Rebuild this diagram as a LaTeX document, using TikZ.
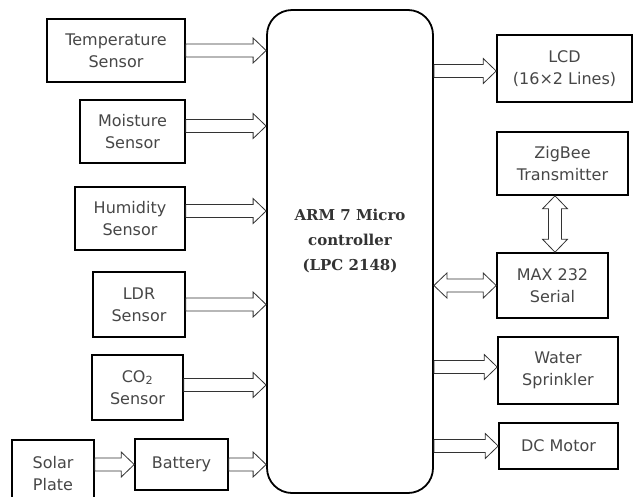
\documentclass[tikz,border=0pt]{standalone}
\usepackage{fontspec}
\setsansfont{DejaVu Sans}
\newfontfamily\armfont{DejaVu Serif}
\usetikzlibrary{calc}

\begin{document}
\begin{tikzpicture}[x=1pt,y=-1pt,
 block/.style={draw,line width=1.6pt,align=center,inner sep=2pt,text=black!72,
   font=\sffamily\fontsize{16}{22}\selectfont},
 fat/.style={draw=black!80,line width=0.8pt,line join=miter,
   to path={($(\tikztostart)!6.5pt!90:(\tikztotarget)$)
     -- ($(\tikztotarget)!13pt!(\tikztostart)!6.5pt!90:(\tikztotarget)$)
     -- ($(\tikztotarget)!13pt!(\tikztostart)!12.5pt!90:(\tikztotarget)$)
     -- (\tikztotarget)
     -- ($(\tikztotarget)!13pt!(\tikztostart)!12.5pt!-90:(\tikztotarget)$)
     -- ($(\tikztotarget)!13pt!(\tikztostart)!6.5pt!-90:(\tikztotarget)$)
     -- ($(\tikztostart)!6.5pt!-90:(\tikztotarget)$) -- cycle}},
 fatboth/.style={draw=black!80,line width=0.8pt,line join=miter,
   to path={(\tikztostart)
     -- ($(\tikztostart)!13pt!(\tikztotarget)!12.5pt!90:(\tikztotarget)$)
     -- ($(\tikztostart)!13pt!(\tikztotarget)!6.5pt!90:(\tikztotarget)$)
     -- ($(\tikztotarget)!13pt!(\tikztostart)!6.5pt!90:(\tikztotarget)$)
     -- ($(\tikztotarget)!13pt!(\tikztostart)!12.5pt!90:(\tikztotarget)$)
     -- (\tikztotarget)
     -- ($(\tikztotarget)!13pt!(\tikztostart)!12.5pt!-90:(\tikztotarget)$)
     -- ($(\tikztotarget)!13pt!(\tikztostart)!6.5pt!-90:(\tikztotarget)$)
     -- ($(\tikztostart)!13pt!(\tikztotarget)!6.5pt!-90:(\tikztotarget)$)
     -- ($(\tikztostart)!13pt!(\tikztotarget)!12.5pt!-90:(\tikztotarget)$) -- cycle}}]
\fill[white] (0,0) rectangle (636,496);
\clip (0,0) rectangle (636,496);
% controller
\node[draw,line width=1.8pt,rounded corners=25pt,minimum width=166pt,minimum height=483pt] (main) at (350,251.5) {};
\node[font=\armfont\bfseries\fontsize{15}{25}\selectfont,align=center,text=black!80] (armtxt) at (350,241) {ARM 7 Micro\\controller\\(LPC 2148)};
% inputs
\node[block,minimum width=138pt,minimum height=63pt] (temp) at (116,50.5) {Temperature\\Sensor};
\node[block,minimum width=105pt,minimum height=63pt] (moist) at (132.5,131.5) {Moisture\\Sensor};
\node[block,minimum width=110pt,minimum height=63pt] (humid) at (130,218.5) {Humidity\\Sensor};
\node[block,minimum width=92pt,minimum height=65pt] (ldr) at (139,304.5) {LDR\\Sensor};
\node[block,minimum width=91pt,minimum height=65pt] (co2) at (137.5,387.5) {CO\textsubscript{2}\\Sensor};
\node[block,minimum width=82pt,minimum height=70pt,text height=32pt] (solar) at (53,475) {Solar\\Plate};
\node[block,minimum width=93pt,minimum height=51pt] (batt) at (181.5,464.5) {Battery};
% outputs
\node[block,minimum width=135pt,minimum height=67pt] (lcd) at (564.5,68.5) {LCD\\(16×2 Lines)};
\node[block,minimum width=131pt,minimum height=63pt] (zigbee) at (562.5,163.5) {ZigBee\\Transmitter};
\node[block,minimum width=111pt,minimum height=65pt] (max) at (552.5,285.5) {MAX 232\\Serial};
\node[block,minimum width=120pt,minimum height=67pt] (water) at (558,370.5) {Water\\Sprinkler};
\node[block,minimum width=119pt,minimum height=46pt] (dc) at (558.5,446) {DC Motor};
% arrow ends off the box centres
\coordinate (moistout) at ([yshift=5.5pt]moist.east);
\coordinate (humidout) at ([yshift=7.5pt]humid.east);
\coordinate (co2out) at ([yshift=2.5pt]co2.east);
\coordinate (lcdin) at ([yshift=-2.5pt]lcd.west);
\coordinate (waterin) at ([yshift=3.5pt]water.west);
\coordinate (zigport) at ([xshift=-7.5pt]zigbee.south);
\coordinate (maxport) at ([xshift=2.5pt]max.north);
% connectors
\draw[fat] (temp.east) to (main.west |- temp.east);
\draw[fat] (moistout) to (main.west |- moistout);
\draw[fat] (humidout) to (main.west |- humidout);
\draw[fat] (ldr.east) to (main.west |- ldr.east);
\draw[fat] (co2out) to (main.west |- co2out);
\draw[fat] (solar.east |- batt.west) to (batt.west);
\draw[fat] (batt.east) to (main.west |- batt.east);
\draw[fat] (main.east |- lcdin) to (lcdin);
\draw[fatboth] (main.east |- max.west) to (max.west);
\draw[fatboth] (zigport) to (maxport);
\draw[fat] (main.east |- waterin) to (waterin);
\draw[fat] (main.east |- dc.west) to (dc.west);
\end{tikzpicture}
\end{document}
